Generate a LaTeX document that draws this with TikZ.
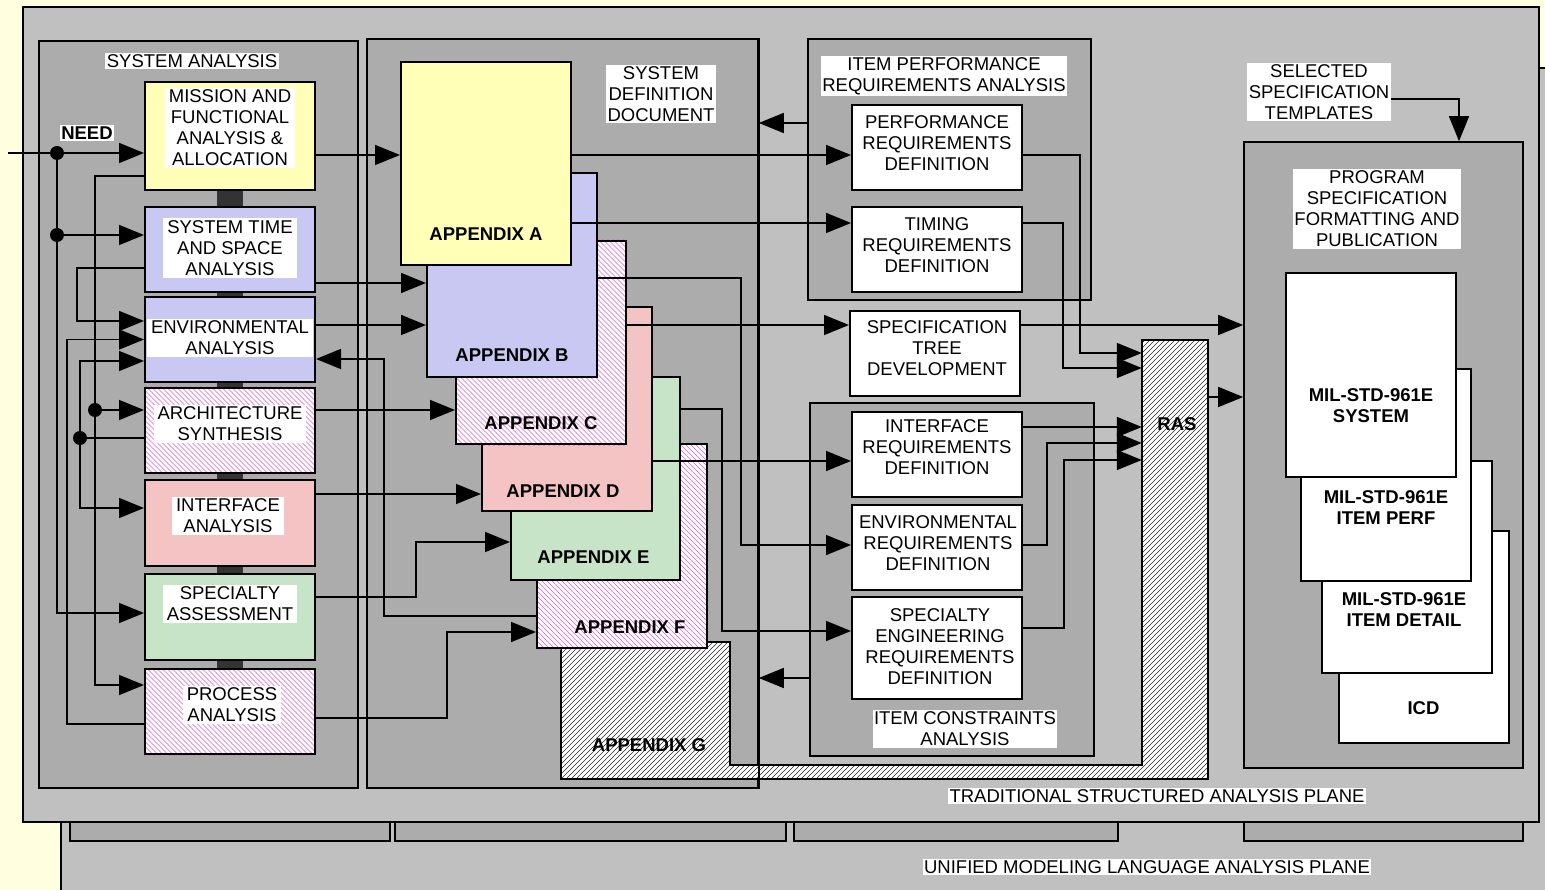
\documentclass[tikz,border=0pt]{standalone}
\usepackage{fontspec}
\setmainfont{Liberation Sans}
\usetikzlibrary{arrows.meta,positioning}
\definecolor{pagebg}{HTML}{FFFFE0}
\definecolor{planegray}{HTML}{C0C0C0}
\definecolor{grpgray}{HTML}{ACACAC}
\definecolor{sayellow}{HTML}{FFFFB8}
\definecolor{sablue}{HTML}{C8C8F2}
\definecolor{sared}{HTML}{F4C4C4}
\definecolor{sagreen}{HTML}{C8E4C8}
\definecolor{hatchpink}{HTML}{E060D0}
\newcommand{\dgfont}{\fontsize{18.5}{21}\selectfont}
% diagonal hatch clipped to a node
\newcommand{\pinkfill}[1]{%
  \begin{scope}
    \clip (#1.south west) rectangle (#1.north east);
    \foreach \k in {-200,-195,...,200}
      \draw[hatchpink, line width=0.5pt] ([xshift=\k pt]#1.center) ++(-150,-150) -- ++(300,300);
  \end{scope}}
\tikzset{
  plane/.style={draw=black, line width=1.6pt, fill=planegray},
  group/.style={draw=black, line width=1.6pt, fill=grpgray, inner sep=0pt},
  sabox/.style={draw=black, line width=2pt, inner sep=0pt, minimum width=170pt, minimum height=85pt},
  reqbox/.style={draw=black, line width=2pt, fill=white, inner sep=0pt, minimum width=170pt, minimum height=85pt},
  appbox/.style={draw=black, line width=2pt, inner sep=0pt, minimum width=170pt, minimum height=204pt},
  docbox/.style={draw=black, line width=2pt, fill=white, inner sep=0pt, minimum width=170pt, minimum height=212pt},
  boxtxt/.style={fill=white, align=center, inner xsep=4pt, inner ysep=2pt, font=\dgfont},
  doctxt/.style={align=center, inner sep=0pt, font=\dgfont\bfseries},
  lbl/.style={fill=white, align=center, inner sep=1.5pt, font=\dgfont},
  flowarrow/.style={-{Triangle[length=25pt,width=20pt]}, line width=1.6pt},
  plainline/.style={line width=1.6pt},
  linkbar/.style={fill=black!80}
}
\begin{document}
\begin{tikzpicture}[x=1pt, y=-1pt]
  \fill[pagebg] (0,0) rectangle (1545,890);
  \useasboundingbox (0,0) rectangle (1545,890);

  % the two analysis planes
  \draw[plane] (61,68) rectangle (1570,910);
  \foreach \xa/\xb in {70/390, 395/786, 794/1118, 1244/1523}
    \draw[group] (\xa,800) rectangle (\xb,841);
  \draw[plane] (23,7) rectangle (1539,822);

  % groups
  \node[group, minimum width=319pt, minimum height=747pt] (sagrp) at (198.5,414.5) {};
  \node[group, minimum width=391pt, minimum height=749pt] (sddgrp) at (562.5,413.5) {};
  \node[group, minimum width=283pt, minimum height=261pt] (ipgrp) at (949.5,169.5) {};
  \node[group, minimum width=284pt, minimum height=353pt] (icgrp) at (952,579.5) {};
  \node[group, minimum width=279pt, minimum height=626pt] (psgrp) at (1383.5,455) {};

  % system analysis
  \node[sabox, fill=sayellow, minimum height=108pt] (mission) at (230,136) {};
  \node[sabox, fill=sablue] (systime) at (230,249.5) {};
  \node[sabox, fill=sablue] (envan) at (230,339.5) {};
  \node[sabox, fill=white] (arch) at (230,430.5) {};
  \pinkfill{arch}
  \node[sabox] at (arch) {};
  \node[sabox, fill=sared, minimum height=86pt] (ifan) at (230,523) {};
  \node[sabox, fill=sagreen, minimum height=86pt] (specas) at (230,617) {};
  \node[sabox, fill=white] (procan) at (230,711.5) {};
  \pinkfill{procan}
  \node[sabox] at (procan) {};
  \foreach \a/\b in {mission/systime, systime/envan, envan/arch, arch/ifan, ifan/specas, specas/procan}
    \fill[linkbar] ([xshift=-13pt]\a.south) rectangle ([xshift=13pt]\b.north);
  \node[boxtxt] at ([yshift=8pt]mission.center) {MISSION AND\\FUNCTIONAL\\ANALYSIS \&\\ALLOCATION};
  \node[boxtxt] at ([yshift=1.5pt]systime.center) {SYSTEM TIME\\AND SPACE\\ANALYSIS};
  \node[boxtxt] at ([yshift=1.5pt]envan.center) {ENVIRONMENTAL\\ANALYSIS};
  \node[boxtxt] at ([yshift=6.5pt]arch.center) {ARCHITECTURE\\SYNTHESIS};
  \node[boxtxt] at ([xshift=-2pt,yshift=7pt]ifan.center) {INTERFACE\\ANALYSIS};
  \node[boxtxt] at ([yshift=13pt]specas.center) {SPECIALTY\\ASSESSMENT};
  \node[boxtxt] at ([xshift=2pt,yshift=6.5pt]procan.center) {PROCESS\\ANALYSIS};

  % system definition document
  \fill[white] (561,642) -- (730,642) -- (730,765) -- (1142,765) -- (1142,340)
    -- (1208,340) -- (1208,779) -- (561,779) -- cycle;
  \begin{scope}
    \clip (561,642) -- (730,642) -- (730,765) -- (1142,765) -- (1142,340)
      -- (1208,340) -- (1208,779) -- (561,779) -- cycle;
    \foreach \k [evaluate=\k as \xa using \k-330, evaluate=\k as \xb using \k-790] in {900,905,...,1996}
      \draw[black!85, line width=0.5pt] (\xa,330) -- (\xb,790);
  \end{scope}
  \draw[line width=2pt] (561,642) -- (730,642) -- (730,765) -- (1142,765) -- (1142,340)
    -- (1208,340) -- (1208,779) -- (561,779) -- cycle;
  \draw[plainline] (sddgrp.north east) -- (sddgrp.south east);
  \node[inner sep=0pt, minimum width=66pt, minimum height=439pt] (ras) at (1175,559.5) {};
  \node[appbox, fill=white] (appF) at (622,546) {};
  \pinkfill{appF}
  \node[appbox] at (appF) {};
  \node[appbox, fill=sagreen, minimum width=169pt, minimum height=203pt] (appE) at (595.5,478.5) {};
  \node[appbox, fill=sared] (appD) at (567,409) {};
  \node[appbox, fill=white, minimum height=203pt] (appC) at (541,342.5) {};
  \pinkfill{appC}
  \node[appbox, minimum height=203pt] at (appC) {};
  \node[appbox, fill=sablue] (appB) at (512,275) {};
  \node[appbox, fill=sayellow, minimum height=203pt] (appA) at (486,163.5) {};
  \node[doctxt] at ([yshift=32pt]appA.south) {APPENDIX A};
  \node[doctxt] at ([yshift=23pt]appB.south) {APPENDIX B};
  \node[doctxt] at ([yshift=22pt]appC.south) {APPENDIX C};
  \node[doctxt] at ([xshift=-4pt,yshift=21pt]appD.south) {APPENDIX D};
  \node[doctxt] at ([xshift=-2pt,yshift=24pt]appE.south) {APPENDIX E};
  \node[doctxt] at ([xshift=8pt,yshift=22pt]appF.south) {APPENDIX F};
  \node[doctxt] (appG) at (649,745) {APPENDIX G};
  \node[doctxt] (raslbl) at (1177,424) {RAS};

  % item analysis
  \node[reqbox] (perf) at (937,147.5) {};
  \node[reqbox] (timing) at (937,249.5) {};
  \node[reqbox] (spectree) at (935,353.5) {};
  \node[reqbox] (ifreq) at (937,454.5) {};
  \node[reqbox] (envreq) at (937,547.5) {};
  \node[reqbox, minimum height=102pt] (speceng) at (937,648) {};
  \node[boxtxt] at ([yshift=4.5pt]perf.center) {PERFORMANCE\\REQUIREMENTS\\DEFINITION};
  \node[boxtxt] at ([yshift=4.5pt]timing.center) {TIMING\\REQUIREMENTS\\DEFINITION};
  \node[boxtxt] at ([xshift=2pt,yshift=5pt]spectree.center) {SPECIFICATION\\TREE\\DEVELOPMENT};
  \node[boxtxt] at ([yshift=7.5pt]ifreq.center) {INTERFACE\\REQUIREMENTS\\DEFINITION};
  \node[boxtxt] at ([xshift=1pt,yshift=4.5pt]envreq.center) {ENVIRONMENTAL\\REQUIREMENTS\\DEFINITION};
  \node[boxtxt] at ([xshift=3pt,yshift=1pt]speceng.center) {SPECIALTY\\ENGINEERING\\REQUIREMENTS\\DEFINITION};

  % program specification
  \node[docbox] (icd) at (1423.5,637) {};
  \node[docbox] (mildet) at (1407,567) {};
  \node[docbox] (milperf) at (1386,475) {};
  \node[docbox, minimum height=204pt] (milsys) at (1371,375) {};
  \node[doctxt] at ([yshift=-31pt]milsys.center) {MIL-STD-961E\\SYSTEM};
  \node[doctxt] at ([yshift=-33pt]milperf.center) {MIL-STD-961E\\ITEM PERF};
  \node[doctxt] at ([xshift=-3pt,yshift=-43pt]mildet.center) {MIL-STD-961E\\ITEM DETAIL};
  \node[doctxt] at ([yshift=-71pt]icd.center) {ICD};

  % group labels
  \node[lbl] (salbl) at (192,61) {SYSTEM ANALYSIS};
  \node[lbl] (sddlbl) at (661,94) {SYSTEM\\DEFINITION\\DOCUMENT};
  \node[lbl] (iplbl) at (944,76) {ITEM PERFORMANCE\\REQUIREMENTS ANALYSIS};
  \node[lbl] (iclbl) at (965,729) {ITEM CONSTRAINTS\\ANALYSIS};
  \node[lbl] (sst) at (1319,92) {SELECTED\\SPECIFICATION\\TEMPLATES};
  \node[lbl] (pslbl) at (1377,209) {PROGRAM\\SPECIFICATION\\FORMATTING AND\\PUBLICATION};
  \node[lbl, font=\dgfont\bfseries] (need) at (87,133) {NEED};

  % connectors inside system analysis
  \coordinate (needin) at (8,153);
  \coordinate (dneed) at (57,153);
  \coordinate (dtime) at (57,235);
  \coordinate (darch) at (95,410);
  \coordinate (dsynth) at (80,438);
  \draw[flowarrow] (needin) -- ([yshift=-17pt]mission.west);
  \draw[flowarrow] (dneed) |- ([yshift=4pt]specas.west);
  \draw[flowarrow] (dtime) -- ([yshift=14.5pt]systime.west);
  \draw[flowarrow] ([yshift=-40pt]mission.west) -| (darch) |- ([yshift=26.5pt]procan.west);
  \draw[flowarrow] (darch) -- ([yshift=20.5pt]arch.west);
  \draw[flowarrow] ([yshift=-18.5pt]systime.west) -- ++(-67,0) |- ([yshift=18.5pt]envan.west);
  \draw[flowarrow] ([yshift=-12.5pt]procan.west) -- ++(-77,0) |- (envan.west);
  \draw[plainline] ([yshift=-7.5pt]arch.west) -- (dsynth);
  \draw[flowarrow] (dsynth) |- ([yshift=-21.5pt]envan.west);
  \draw[flowarrow] (dsynth) |- ([yshift=15pt]ifan.west);
  \foreach \d in {dneed, dtime, darch, dsynth}
    \fill (\d) circle (7pt);

  % system analysis to appendices
  \draw[flowarrow] ([yshift=-19pt]mission.east) -- ([yshift=-19pt]mission.east -| appA.west);
  \draw[flowarrow] ([yshift=-33.5pt]systime.east) -- ([yshift=-33.5pt]systime.east -| appB.west);
  \draw[flowarrow] ([yshift=14.5pt]envan.east) -- ([yshift=14.5pt]envan.east -| appB.west);
  \draw[flowarrow] ([yshift=20.5pt]arch.east) -- ([yshift=20.5pt]arch.east -| appC.west);
  \draw[flowarrow] ([yshift=29pt]ifan.east) -- ([yshift=29pt]ifan.east -| appD.west);
  \draw[flowarrow] ([yshift=20pt]specas.east) -- ++(100,0) |- ([yshift=-63.5pt]appE.west);
  \draw[flowarrow] ([yshift=-6.5pt]procan.east) -- ++(131,0) |- ([yshift=-86pt]appF.west);
  \draw[flowarrow] ([yshift=-70pt]appF.west) -- ++(-152,0) |- ([yshift=-19.5pt]envan.east);

  % appendices to item analysis
  \draw[flowarrow] ([yshift=8.5pt]appA.east) -- ([yshift=8.5pt]appA.east -| perf.west);
  \draw[flowarrow] ([yshift=-59.5pt]appA.east) -- ([yshift=-59.5pt]appA.east -| timing.west);
  \draw[flowarrow] ([yshift=-3pt]appB.east) -- ++(143,0) |- ([yshift=2.5pt]envreq.west);
  \draw[flowarrow] ([yshift=17.5pt]appC.east) -- ([yshift=17.5pt]appC.east -| spectree.west);
  \draw[flowarrow] ([yshift=-52pt]appD.east) -- ([yshift=-52pt]appD.east -| ifreq.west);
  \draw[flowarrow] ([yshift=69.5pt]appE.east) -- ++(41,0) |- ([yshift=17pt]speceng.west);
  \draw[flowarrow] ([yshift=46.5pt]ipgrp.west) -- ([yshift=46.5pt]ipgrp.west -| sddgrp.east);
  \draw[flowarrow] ([yshift=-98.5pt]icgrp.west) -- ([yshift=-98.5pt]icgrp.west -| sddgrp.east);

  % into RAS and program specification
  \draw[flowarrow] ([yshift=-7.5pt]perf.east) -- ++(57,0) |- ([yshift=206.5pt]ras.west);
  \draw[flowarrow] ([yshift=26.5pt]timing.east) -- ++(40,0) |- ([yshift=191.5pt]ras.west);
  \draw[flowarrow] ([yshift=27.5pt]ifreq.east) -- ([yshift=27.5pt]ifreq.east -| ras.west);
  \draw[flowarrow] ([yshift=2.5pt]envreq.east) -- ++(24,0) |- ([yshift=116.5pt]ras.west);
  \draw[flowarrow] ([yshift=20pt]speceng.east) -- ++(41,0) |- ([yshift=99.5pt]ras.west);
  \draw[flowarrow] ([yshift=28.5pt]spectree.east) -- ([yshift=28.5pt]spectree.east -| psgrp.west);
  \draw[flowarrow] ([yshift=162.5pt]ras.east) -- ([yshift=162.5pt]ras.east -| psgrp.west);
  \draw[flowarrow] ([yshift=-7pt]sst.east) -| ([xshift=75.5pt]psgrp.north);

  % plane labels
  \node[lbl] (tsap) at (1157,796) {TRADITIONAL STRUCTURED ANALYSIS PLANE};
  \node[lbl] (umlap) at (1147,867) {UNIFIED MODELING LANGUAGE ANALYSIS PLANE};
\end{tikzpicture}
\end{document}
